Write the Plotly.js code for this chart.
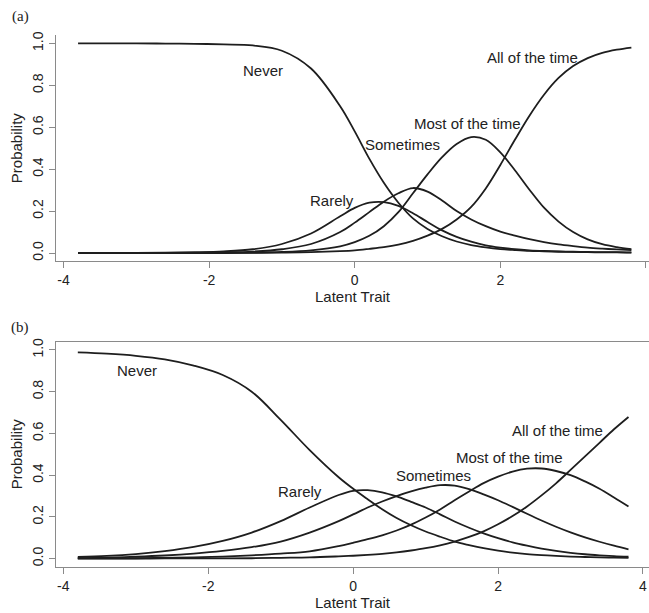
<!DOCTYPE html>
<html>
<head>
<meta charset="utf-8">
<script src="https://cdn.plot.ly/plotly-3.0.1.min.js"></script>
<style>
  html, body { margin: 0; padding: 0; background: #ffffff; }
  #chart { width: 649px; height: 613px; }
</style>
</head>
<body>
<div id="chart"></div>
<script>
// ---- data ----
const theta = [-3.8,-3.4,-3.0,-2.6,-2.2,-1.8,-1.4,-1.0,-0.6,-0.2,0.0,0.2,0.4,0.6,0.8,1.0,1.2,1.4,1.6,1.8,2.0,2.2,2.4,2.6,2.8,3.0,3.2,3.4,3.6,3.8];

const categories = ["Never", "Rarely", "Sometimes", "Most of the time", "All of the time"];

// panel (a)
const neverA     = [1.000,1.000,1.000,0.999,0.998,0.995,0.990,0.965,0.880,0.700,0.580,0.450,0.335,0.240,0.165,0.115,0.080,0.055,0.038,0.027,0.019,0.014,0.010,0.008,0.006,0.005,0.004,0.003,0.003,0.002];
const rarelyA    = [0.000,0.001,0.001,0.002,0.004,0.008,0.018,0.043,0.093,0.175,0.215,0.240,0.243,0.225,0.190,0.148,0.108,0.077,0.054,0.037,0.026,0.018,0.013,0.010,0.008,0.006,0.005,0.004,0.004,0.003];
const sometimesA = [0.000,0.000,0.000,0.001,0.001,0.003,0.007,0.018,0.043,0.100,0.145,0.195,0.245,0.285,0.310,0.293,0.250,0.200,0.160,0.128,0.102,0.083,0.066,0.052,0.041,0.033,0.026,0.021,0.017,0.014];
const mostA      = [0.000,0.000,0.000,0.000,0.000,0.001,0.002,0.005,0.013,0.032,0.052,0.082,0.128,0.195,0.285,0.375,0.457,0.520,0.553,0.540,0.480,0.395,0.302,0.216,0.150,0.100,0.065,0.042,0.028,0.018];
const allA       = [0.000,0.000,0.000,0.000,0.000,0.000,0.001,0.002,0.004,0.009,0.013,0.020,0.028,0.040,0.058,0.083,0.115,0.160,0.220,0.308,0.420,0.540,0.655,0.755,0.835,0.892,0.930,0.955,0.970,0.980];

// panel (b)
const neverB     = [0.988,0.982,0.972,0.955,0.925,0.880,0.800,0.665,0.520,0.390,0.335,0.285,0.237,0.195,0.160,0.130,0.105,0.082,0.065,0.050,0.038,0.029,0.022,0.017,0.013,0.010,0.008,0.006,0.005,0.004];
const rarelyB    = [0.008,0.013,0.022,0.036,0.056,0.085,0.125,0.180,0.245,0.305,0.325,0.328,0.318,0.298,0.272,0.245,0.212,0.178,0.148,0.121,0.098,0.078,0.062,0.048,0.037,0.028,0.021,0.016,0.012,0.009];
const sometimesB = [0.003,0.005,0.009,0.015,0.024,0.037,0.055,0.082,0.125,0.180,0.212,0.245,0.274,0.300,0.322,0.340,0.352,0.350,0.333,0.308,0.280,0.248,0.215,0.183,0.153,0.126,0.102,0.081,0.062,0.045];
const mostB      = [0.001,0.001,0.002,0.004,0.006,0.010,0.016,0.024,0.035,0.060,0.076,0.093,0.112,0.135,0.163,0.197,0.236,0.280,0.322,0.362,0.393,0.417,0.431,0.432,0.420,0.400,0.370,0.335,0.293,0.250];
const allB       = [0.000,0.000,0.000,0.001,0.001,0.001,0.002,0.004,0.006,0.011,0.014,0.018,0.023,0.030,0.039,0.050,0.064,0.082,0.104,0.131,0.165,0.204,0.250,0.303,0.361,0.425,0.490,0.555,0.620,0.679];

// curve label anchor points (latent trait, probability)
const labelXA = [-1.255, -0.316, 0.652, 1.545, 2.435];
const labelYA = [0.871, 0.249, 0.519, 0.618, 0.932];
const labelXB = [-2.979, -0.733, 1.112, 2.158, 2.822];
const labelYB = [0.900, 0.322, 0.397, 0.487, 0.614];

const xTickVals = [-4, -2, 0, 2, 4];
const xTickText = ["-4", "-2", "0", "2", "4"];
const yTickVals = [0, 0.2, 0.4, 0.6, 0.8, 1.0];
const yTickText = ["0.0", "0.2", "0.4", "0.6", "0.8", "1.0"];

const panelLabels = ["(a)", "(b)"];
const xTitle = "Latent Trait";
const yTitle = "Probability";

// ---- build ----
const seriesA = [neverA, rarelyA, sometimesA, mostA, allA];
const seriesB = [neverB, rarelyB, sometimesB, mostB, allB];
const lineStyle = {color: "#1e1e1e", width: 1.8, shape: "spline", smoothing: 1};

const traces = [];
seriesA.forEach((ys, i) => traces.push({
  x: theta, y: ys, type: "scatter", mode: "lines", name: categories[i] + " (a)",
  line: lineStyle, xaxis: "x", yaxis: "y", hoverinfo: "skip"
}));
seriesB.forEach((ys, i) => traces.push({
  x: theta, y: ys, type: "scatter", mode: "lines", name: categories[i] + " (b)",
  line: lineStyle, xaxis: "x2", yaxis: "y2", hoverinfo: "skip"
}));

const font = "Liberation Sans, Arial, Helvetica, sans-serif";
const serif = "Liberation Serif, Times New Roman, serif";
const axisCol = "#8a8a8a";
const textCol = "#222222";

// plot area in pixels (margins below)
const mL = 56, mR = 0, mT = 35, mB = 46, W = 649, H = 613;
const plotW = W - mL - mR, plotH = H - mT - mB;
const pxToPaperX = px => (px - mL) / plotW;
const pxToPaperY = py => (H - mB - py) / plotH;

function xAxis(range, anchor, mirror) {
  return {
    domain: [0, 1], anchor: anchor, range: range,
    tickmode: "array", tickvals: xTickVals, ticktext: xTickText,
    ticks: "outside", ticklen: 6, tickwidth: 1, tickcolor: axisCol,
    showline: true, linecolor: axisCol, linewidth: 1, mirror: mirror,
    showgrid: false, zeroline: false,
    tickfont: {family: font, size: 14, color: textCol},
    title: {text: xTitle, font: {family: font, size: 15, color: textCol}, standoff: 3},
    automargin: true
  };
}
function yAxis(domain, anchor) {
  return {
    domain: domain, anchor: anchor, range: [-0.04, 1.04],
    tickmode: "array", tickvals: yTickVals, ticktext: yTickText, tickangle: -90,
    ticks: "outside", ticklen: 6, tickwidth: 1, tickcolor: axisCol,
    showline: true, linecolor: axisCol, linewidth: 1,
    showgrid: false, zeroline: false,
    tickfont: {family: font, size: 14, color: textCol},
    title: {text: yTitle, font: {family: font, size: 15, color: textCol}, standoff: 4},
    automargin: true
  };
}

const annotations = [];
categories.forEach((c, i) => {
  annotations.push({x: labelXA[i], y: labelYA[i], xref: "x", yref: "y", text: c, showarrow: false,
    xanchor: "center", yanchor: "middle", font: {family: font, size: 15, color: textCol}});
  annotations.push({x: labelXB[i], y: labelYB[i], xref: "x2", yref: "y2", text: c, showarrow: false,
    xanchor: "center", yanchor: "middle", font: {family: font, size: 15, color: textCol}});
});
annotations.push({x: pxToPaperX(20.7), y: pxToPaperY(16.7), xref: "paper", yref: "paper", text: panelLabels[0], showarrow: false,
  xanchor: "center", yanchor: "middle", font: {family: serif, size: 15, color: textCol}});
annotations.push({x: pxToPaperX(20), y: pxToPaperY(327.7), xref: "paper", yref: "paper", text: panelLabels[1], showarrow: false,
  xanchor: "center", yanchor: "middle", font: {family: serif, size: 15, color: textCol}});

const layout = {
  width: W, height: H,
  margin: {l: mL, r: mR, t: mT, b: mB},
  paper_bgcolor: "#ffffff", plot_bgcolor: "#ffffff",
  showlegend: false,
  xaxis: xAxis([-4.103, 4.042], "y", false),
  yaxis: yAxis([pxToPaperY(261.4), 1], "x"),
  xaxis2: xAxis([-4.101, 4.083], "y2", true),
  yaxis2: yAxis([0, pxToPaperY(341.6)], "x2"),
  annotations: annotations
};

Plotly.newPlot("chart", traces, layout, {staticPlot: true, displayModeBar: false});
</script>
</body>
</html>
